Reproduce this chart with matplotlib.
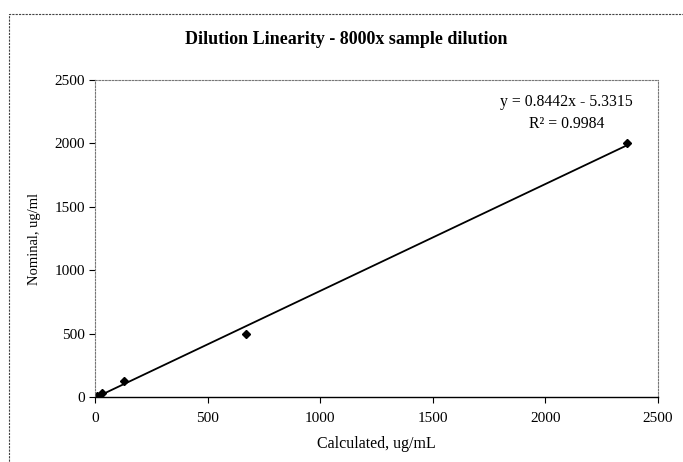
import numpy as np
import matplotlib.pyplot as plt
from matplotlib.patches import Rectangle

plt.rcParams['font.family'] = ['Liberation Serif', 'DejaVu Serif']

# dilution series
calculated = [8, 30, 128, 670, 2362]
nominal = [7.8, 31.25, 125, 500, 2000]
x_ticks = [0, 500, 1000, 1500, 2000, 2500]
y_ticks = [0, 500, 1000, 1500, 2000, 2500]

slope, intercept = np.polyfit(calculated, nominal, 1)

fig = plt.figure(figsize=(6.83, 4.62), dpi=100)
ax = fig.add_axes([95/683, 1 - 397/462, 563/683, 317/462])

# outer chart frame (runs off the image at right and bottom)
fig.patches.append(Rectangle((9/683, -0.1), 1.2, 1 - 14/462 + 0.1, transform=fig.transFigure,
                             fill=False, ec='#444444', lw=0.8, ls=(0, (2, 1))))

xs = np.array([0, max(calculated)])
ax.plot(xs, slope * xs + intercept, color='black', lw=1.3)
ax.plot(calculated, nominal, 'D', color='black', ms=4)

ax.set_xlim(0, 2500)
ax.set_ylim(0, 2500)
ax.set_xticks(x_ticks)
ax.set_yticks(y_ticks)
ax.tick_params(labelsize=11, length=4, width=0.8, direction='out')
ax.tick_params(axis='x', pad=7)
ax.tick_params(axis='y', pad=3)

for side in ['top', 'right', 'left']:
    ax.spines[side].set_color('#777777')
    ax.spines[side].set_linestyle((0, (1.5, 1.5)))
    ax.spines[side].set_linewidth(0.8)
ax.spines['bottom'].set_color('black')
ax.spines['bottom'].set_linewidth(1)

ax.set_xlabel("Calculated, ug/mL", fontsize=11.5, labelpad=8)
ax.set_ylabel("Nominal, ug/ml", fontsize=10.5, labelpad=10)
fig.text(346/683, 1 - 40/462, "Dilution Linearity - 8000x sample dilution",
         ha='center', va='center', fontsize=13, fontweight='bold')

ax.text(0.837, 0.931, "y = 0.8442x - 5.3315", transform=ax.transAxes,
        ha='center', va='center', fontsize=11.3)
ax.text(0.837, 0.862, "R\u00b2 = 0.9984", transform=ax.transAxes,
        ha='center', va='center', fontsize=11.3)

fig.savefig("out.png", dpi=100)
